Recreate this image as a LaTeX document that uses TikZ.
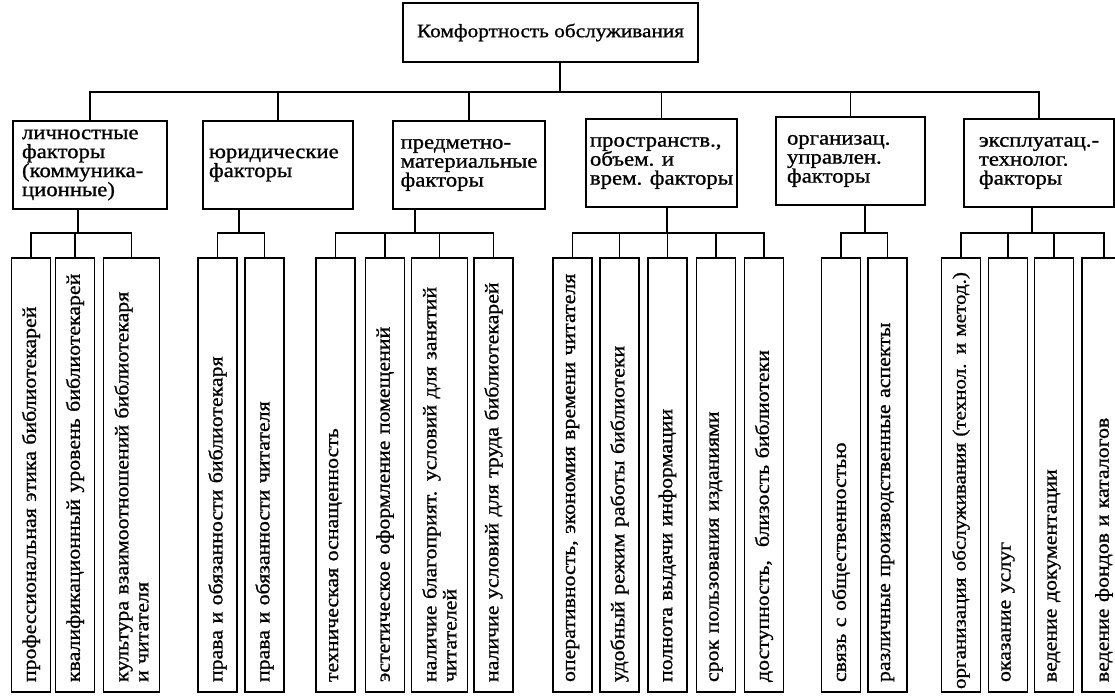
\documentclass[tikz,border=0pt]{standalone}
\usepackage{fontspec}
\setmainfont{Liberation Serif}[FakeStretch=1.12, FakeBold=1]
\begin{document}
\begin{tikzpicture}[
        x=1pt, y=-1pt,
        topbox/.style={draw, line width=1.1pt, minimum width=295pt, minimum height=59pt, font=\fontsize{19}{22}\selectfont},
        factor/.style={draw, line width=1.1pt, minimum height=88pt, align=left, inner sep=0pt, font=\fontsize{20.3}{19}\selectfont},
        leaf/.style={draw, line width=1.1pt, rotate=90, minimum width=434pt, minimum height=39pt, inner xsep=10pt, inner ysep=0pt, text width=414pt, align=left, font=\fontsize{19.5}{20}\selectfont},
        wideleaf/.style={leaf, minimum height=56pt},
        link/.style={line width=1.1pt}
    ]

        \path[use as bounding box, clip] (0,0) rectangle (1115,700);

        \node[topbox] (root) at (550.5,32.5) {Комфортность обслуживания};

        \node[factor, minimum width=154pt, inner xsep=9pt, text width=136pt] (f1) at (90,165) {личностные\\факторы\\(коммуника-\\ционные)};
        \node[factor, minimum width=150pt, inner xsep=6pt, text width=138pt] (f2) at (278,165) {юридические\\факторы};
        \node[factor, minimum width=152pt] (f3) at (469,165) {предметно-\\материальные\\факторы};
        \node[factor, minimum width=151pt] (f4) at (661.5,163) {пространств.,\\объем. и\\врем. факторы};
        \node[factor, minimum width=149pt, inner xsep=11pt, text width=127pt] (f5) at (850.5,161) {организац.\\управлен.\\факторы};
        \node[factor, minimum width=150pt] (f6) at (1039,163) {эксплуатац.-\\технолог.\\факторы};

        \coordinate (bus) at (560,92);
        \draw[link] (bus) -- (bus |- root.south);
        \draw[link] (f1.north) |- (bus);
        \draw[link] (f2.north) |- (bus);
        \draw[link] (f3.north) |- (bus);
        \draw[link] (f4.north) |- (bus);
        \draw[link] (f5.north) |- (bus);
        \draw[link] (f6.north) |- (bus);

        \node[leaf] (l1) at (31,475) {профессиональная этика библиотекарей};
        \node[leaf] (l2) at (75,475) {квалификационный уровень библиотекарей};
        \node[wideleaf] (l3) at (131.5,475) {культура взаимоотношений библиотекаря\\и читателя};

        \node[leaf] (l4) at (217.5,475) {права и обязанности библиотекаря};
        \node[leaf] (l5) at (264.5,475) {права и обязанности читателя};

        \node[leaf] (l6) at (335.5,475) {техническая оснащенность};
        \node[leaf] (l7) at (385,475) {эстетическое оформление помещений};
        \node[wideleaf] (l8) at (439.5,475) {наличие благоприят. условий для занятий\\читателей};
        \node[leaf] (l9) at (493.5,475) {наличие условий для труда библиотекарей};

        \node[leaf] (l10) at (572.5,475) {оперативность, экономия времени читателя};
        \node[leaf] (l11) at (619.5,475) {удобный режим работы библиотеки};
        \node[leaf] (l12) at (667.5,475) {полнота выдачи информации};
        \node[leaf] (l13) at (716,475) {срок пользования изданиями};
        \node[leaf] (l14) at (764,475) {доступность,\ \ близость библиотеки};

        \node[leaf] (l15) at (841,475) {связь с общественностью};
        \node[leaf] (l16) at (887.5,475) {различные производственные аспекты};

        \node[leaf, inner xsep=3pt, text width=428pt, font=\fontsize{18.8}{20}\selectfont] (l17) at (961,475) {организация обслуживания (технол. и метод.)};
        \node[leaf] (l18) at (1008,475) {оказание услуг};
        \node[leaf] (l19) at (1054,475) {ведение документации};
        \node[leaf, minimum height=44pt] (l20) at (1104,475) {ведение фондов и каталогов};

        \coordinate (j1) at (78,233);
        \coordinate (j2) at (239,233);
        \coordinate (j3) at (415,233);
        \coordinate (j4) at (667,233);
        \coordinate (j5) at (865,233);
        \coordinate (j6) at (1032,233);

        \draw[link] (j1) -- (j1 |- f1.south);
        \draw[link] (l1.east) |- (j1);
        \draw[link] (l2.east) |- (j1);
        \draw[link] (l3.east) |- (j1);

        \draw[link] (j2) -- (j2 |- f2.south);
        \draw[link] (l4.east) |- (j2);
        \draw[link] (l5.east) |- (j2);

        \draw[link] (j3) -- (j3 |- f3.south);
        \draw[link] (l6.east) |- (j3);
        \draw[link] (l7.east) |- (j3);
        \draw[link] (l8.east) |- (j3);
        \draw[link] (l9.east) |- (j3);

        \draw[link] (j4) -- (j4 |- f4.south);
        \draw[link] (l10.east) |- (j4);
        \draw[link] (l11.east) |- (j4);
        \draw[link] (l12.east) |- (j4);
        \draw[link] (l13.east) |- (j4);
        \draw[link] (l14.east) |- (j4);

        \draw[link] (j5) -- (j5 |- f5.south);
        \draw[link] (l15.east) |- (j5);
        \draw[link] (l16.east) |- (j5);

        \draw[link] (j6) -- (j6 |- f6.south);
        \draw[link] (l17.east) |- (j6);
        \draw[link] (l18.east) |- (j6);
        \draw[link] (l19.east) |- (j6);
        \draw[link] (l20.east) |- (j6);
    \end{tikzpicture}
\end{document}
